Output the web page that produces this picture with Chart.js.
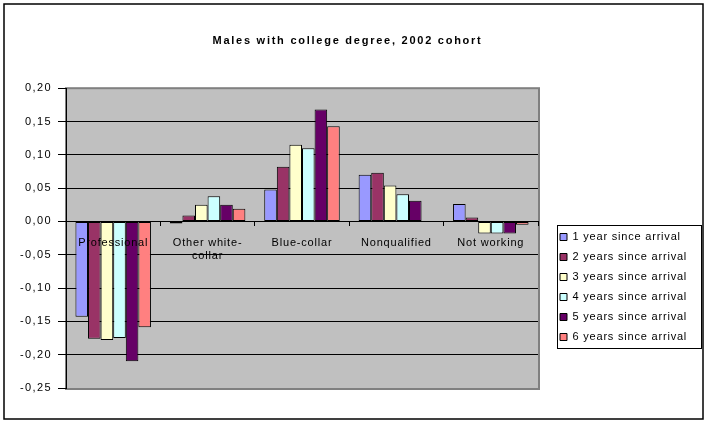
<!DOCTYPE html>
<html>
<head>
<meta charset="utf-8">
<script src="https://cdn.jsdelivr.net/npm/chart.js@4"></script>
<style>
  body { margin: 0; background: #fff; }
  #wrap { width: 706px; height: 422px; }
</style>
</head>
<body>
<div id="wrap"><canvas id="chart"></canvas></div>
<script>
const categories = ['Professional', ['Other white-', 'collar'], 'Blue-collar', 'Nonqualified', 'Not working'];
const seriesNames = ['1 year since arrival', '2 years since arrival', '3 years since arrival',
    '4 years since arrival', '5 years since arrival', '6 years since arrival'];
const seriesColors = ['#9999ff', '#993366', '#ffffcc', '#ccffff', '#660066', '#ff8080'];

const year1 = [-0.143, -0.003, 0.048, 0.070, 0.026];
const year2 = [-0.176, 0.009, 0.082, 0.073, 0.006];
const year3 = [-0.178, 0.025, 0.115, 0.054, -0.018];
const year4 = [-0.175, 0.038, 0.110, 0.041, -0.018];
const year5 = [-0.210, 0.025, 0.168, 0.031, -0.018];
const year6 = [-0.159, 0.019, 0.143, 0.000, -0.005];
const seriesValues = [year1, year2, year3, year4, year5, year6];

const yMin = -0.25;
const yMax = 0.20;
const yStep = 0.05;

Chart.defaults.font.family = '"Liberation Sans", Arial, sans-serif';
Chart.defaults.font.size = 11;
Chart.defaults.color = '#000';

// wrap a draw method so its text gets extra letter spacing (Excel-like text)
function spaced(obj, method, chart, spacing) {
    const key = '_spaced_' + method;
    if (obj[key]) return;
    const orig = obj[method].bind(obj);
    obj[method] = function (area) {
        chart.ctx.save();
        chart.ctx.letterSpacing = spacing;
        orig(area);
        chart.ctx.restore();
    };
    obj[key] = true;
}

const framePlugin = {
    id: 'frame',
    afterLayout(chart) {
        // legend sits lower than the plot centre in the original
        const lg = chart.legend;
        lg.left = chart.chartArea.right + 13;
        lg.right = chart.width - 4;
        lg.width = lg.right - lg.left;
        lg.top = 222.5;
        lg.bottom = lg.top + lg.columnSizes[0].height + 9;
        lg.height = lg.bottom - lg.top;
        const t = chart.titleBlock;
        t.left = 0; t.right = 695; t.width = 695;
        spaced(t, 'draw', chart, '1.75px');
        spaced(lg, 'draw', chart, '0.8px');
        spaced(chart.scales.x, 'drawLabels', chart, '0.8px');
        spaced(chart.scales.y, 'drawLabels', chart, '1.4px');
    },
    beforeDraw(chart) {
        const { ctx, chartArea: a } = chart;
        ctx.save();
        ctx.fillStyle = '#fff';
        ctx.fillRect(0, 0, chart.width, chart.height);
        ctx.strokeStyle = '#000';
        ctx.lineWidth = 1.5;
        ctx.strokeRect(4, 4, chart.width - 7, chart.height - 7);
        ctx.fillStyle = '#c0c0c0';
        ctx.fillRect(a.left, a.top, a.width, a.height);
        ctx.strokeStyle = '#808080';
        ctx.lineWidth = 2;
        ctx.strokeRect(a.left, a.top, a.width + 1, a.height + 1);
        ctx.restore();
    },
    afterDraw(chart) {
        const lg = chart.legend;
        const colH = lg.columnSizes[0].height;
        const start = (lg.top + 9 + lg.bottom - colH) / 2;
        const ctx = chart.ctx;
        ctx.save();
        ctx.strokeStyle = '#000';
        ctx.lineWidth = 1;
        ctx.strokeRect(Math.round(lg.left) + 6 + 0.5, Math.round(start - 7) + 0.5, 144, colH - 9 + 12);
        ctx.restore();
    }
};

const datasets = seriesNames.map((name, i) => ({
    label: name,
    data: seriesValues[i],
    backgroundColor: seriesColors[i],
    borderColor: '#000',
    borderWidth: 1,
    borderSkipped: false,
    categoryPercentage: 0.8,
    barPercentage: 1.0
}));

new Chart(document.getElementById('chart'), {
    type: 'bar',
    data: { labels: categories, datasets },
    options: {
        responsive: true,
        maintainAspectRatio: false,
        animation: false,
        events: [],
        layout: { padding: { left: 6, right: 68, top: 4, bottom: 34 } },
        plugins: {
            title: {
                display: true,
                text: 'Males with college degree, 2002 cohort',
                font: { size: 11, weight: 'bold' },
                color: '#000',
                padding: { top: 30, bottom: 41 }
            },
            legend: {
                position: 'right',
                fullSize: false,
                maxWidth: 100,
                labels: { boxWidth: 7, boxHeight: 7, padding: 9, color: '#000', font: { size: 11 } }
            },
            tooltip: { enabled: false }
        },
        scales: {
            x: {
                position: { y: 0 },
                offset: true,
                grid: { offset: true, drawOnChartArea: false, drawTicks: true, tickLength: 4, color: '#000' },
                border: { color: '#000', width: 1 },
                ticks: { z: 1, padding: 11, maxRotation: 0, autoSkip: false, color: '#000' }
            },
            y: {
                min: yMin,
                max: yMax,
                afterFit: s => { s.width = 60; },
                grid: {
                    color: c => (c.index === 0 || c.index === 9) ? '#808080' : '#000',
                    tickColor: '#000',
                    tickLength: 8
                },
                border: { color: '#000', width: 1 },
                ticks: {
                    stepSize: yStep,
                    padding: 6,
                    color: '#000',
                    callback: v => (Math.abs(v) < 1e-9 ? 0 : v).toFixed(2).replace('.', ',')
                }
            }
        }
    },
    plugins: [framePlugin]
});
</script>
</body>
</html>
